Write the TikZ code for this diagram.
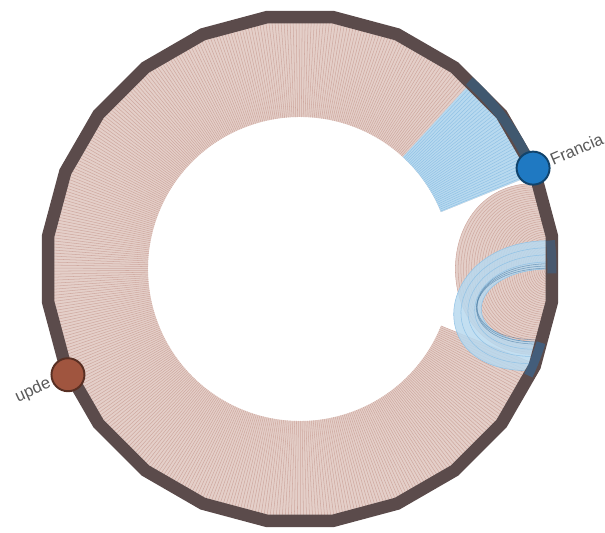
\documentclass[tikz,border=0pt]{standalone}
\usepackage{fontspec}
\setmainfont{Liberation Sans}
\usepackage{xcolor}
\usepackage{tikz}
\usetikzlibrary{calc}

\definecolor{ringdark}{HTML}{5B4B4B}
\definecolor{ringblue}{HTML}{3E5A74}
\definecolor{linkpink}{HTML}{CFA9A0}
\definecolor{fillpink}{HTML}{E4CFC9}
\definecolor{linkblue}{HTML}{92C3E6}
\definecolor{fillblue}{HTML}{B8D9EF}
\definecolor{nodeblue}{HTML}{1F79C2}
\definecolor{noderust}{HTML}{A0553F}

\begin{document}
\begin{tikzpicture}[x=0.02cm, y=0.02cm,
    link/.style={line width=0.3pt},
    ring/.style={line width=0.25cm, ringdark},
    dot/.style={circle, minimum size=0.66cm, inner sep=0pt, line width=1.1pt},
    lbl/.style={font=\fontsize{9.5}{11}\selectfont, text=black!65, inner sep=1pt}]
  \useasboundingbox (-300,-264) rectangle (305,269);

  % Pink sector of the annulus
  \fill[fillpink] (22:152) arc[start angle=22, end angle=338, radius=152]
    -- (338:250) arc[start angle=338, end angle=22, radius=250] -- cycle;
  \foreach \a in {47.5,48.2,...,338}
    \draw[link, linkpink] (\a:152) -- (\a:250);

  % Blue sector (links of Francia)
  \fill[fillblue] (22:152) arc[start angle=22, end angle=47.5, radius=152]
    -- (47.5:250) arc[start angle=47.5, end angle=22, radius=250] -- cycle;
  \foreach \a in {22.4,23.1,...,47.5}
    \draw[link, linkblue] (\a:152) -- (\a:250);

  % Bulge of looping links
  \fill[fillpink] (20:250) .. controls ($(20:250)+(-106,0)$) and ($(-20:250)+(-106,0)$) .. (-20:250)
    arc[start angle=-20, end angle=20, radius=250] -- cycle;
  \foreach \t in {0.5,1,...,20}
    \draw[link, linkpink] (\t:250) .. controls ($(\t:250)+({-5.3*\t},0)$) and ($(-\t:250)+({-5.3*\t},0)$) .. (-\t:250);

  % Blue band through the bulge
  \fill[fillblue, opacity=.85] (6.5:250) .. controls ($(6.5:250)+(-112,0)$) and ($(-24:250)+(-112,0)$) .. (-24:250)
    arc[start angle=-24, end angle=-17, radius=250]
    .. controls ($(-17:250)+(-84,0)$) and ($(0:250)+(-84,0)$) .. (0:250)
    arc[start angle=0, end angle=6.5, radius=250] -- cycle;
  \foreach \s in {0,0.25,...,1}
    \draw[link, linkblue] ({6.5-6.5*\s}:250)
      .. controls ($({6.5-6.5*\s}:250)+({-112+28*\s},0)$) and ($({-24+7*\s}:250)+({-112+28*\s},0)$)
      .. ({-24+7*\s}:250);
  \foreach \s in {0,0.5,1}
    \draw[link, nodeblue!70!black, opacity=.45] ({1.2-\s}:250)
      .. controls ($({1.2-\s}:250)+(-90,0)$) and ($({-17.5+\s}:250)+(-90,0)$) .. ({-17.5+\s}:250);

  % Outer ring
  \draw[ring] (97.5:254) \foreach \a in {112.5,127.5,...,442.5} {-- (\a:254)} -- cycle;
  \draw[ring, ringblue, line width=0.2cm, opacity=.9] (48:253) arc[start angle=48, end angle=23, radius=253];
  \draw[ring, nodeblue, line width=0.18cm, opacity=.3] (6.5:252) arc[start angle=6.5, end angle=-1, radius=252];
  \draw[ring, nodeblue, line width=0.18cm, opacity=.4] (-17:252) arc[start angle=-17, end angle=-25, radius=252];

  % Nodes
  \node[dot, fill=nodeblue, draw=nodeblue!55!black] (francia) at (23.4:254) {};
  \node[lbl, anchor=west, rotate=23.4] (francia-text) at (francia.23.4) {Francia};
  \node[dot, fill=noderust, draw=noderust!55!black] (upde) at (204.5:255) {};
  \node[lbl, anchor=east, rotate=24.5] (upde-text) at (upde.204.5) {upde};
\end{tikzpicture}
\end{document}
